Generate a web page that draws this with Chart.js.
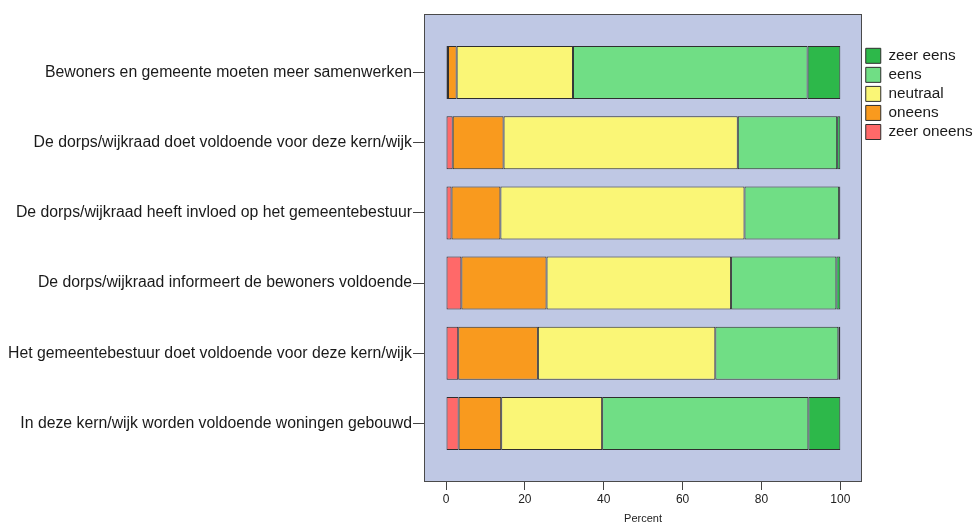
<!DOCTYPE html>
<html>
<head>
<meta charset="utf-8">
<script src="https://cdn.jsdelivr.net/npm/chart.js@4/dist/chart.umd.min.js"></script>
<style>
  html, body { margin: 0; padding: 0; background: #ffffff; }
  #wrap { width: 973px; height: 526px; }
</style>
</head>
<body>
<div id="wrap"><canvas id="chart" width="973" height="526"></canvas></div>
<script>
// categories (top to bottom)
const categories = [
  'Bewoners en gemeente moeten meer samenwerken',
  'De dorps/wijkraad doet voldoende voor deze kern/wijk',
  'De dorps/wijkraad heeft invloed op het gemeentebestuur',
  'De dorps/wijkraad informeert de bewoners voldoende',
  'Het gemeentebestuur doet voldoende voor deze kern/wijk',
  'In deze kern/wijk worden voldoende woningen gebouwd'
];

// percentages per answer
const zeerOneens = [0.5, 1.7, 1.4, 3.9, 3.1, 3.2];
const oneens     = [2.2, 12.9, 12.4, 21.6, 20.2, 10.8];
const neutraal   = [29.5, 59.4, 61.9, 46.8, 45.0, 25.6];
const eens       = [59.5, 25.2, 24.0, 26.7, 31.2, 52.3];
const zeerEens   = [8.3, 0.8, 0.3, 1.0, 0.5, 8.1];

const xTicks = [0, 20, 40, 60, 80, 100];
const xTitle = 'Percent';

const series = [
  { label: 'zeer oneens', values: zeerOneens, color: '#ff6969' },
  { label: 'oneens', values: oneens, color: '#f99a1e' },
  { label: 'neutraal', values: neutraal, color: '#faf676' },
  { label: 'eens', values: eens, color: '#70de85' },
  { label: 'zeer eens', values: zeerEens, color: '#2db84a' }
];

const FONT = "'Liberation Sans', Arial, sans-serif";

// plot frame + background (drawn around the chart area)
const framePlugin = {
  id: 'frame',
  beforeDraw(chart) {
    const { ctx, chartArea: a } = chart;
    ctx.save();
    ctx.fillStyle = '#bfc8e4';
    ctx.fillRect(a.left, a.top, a.right - a.left, a.bottom - a.top);
    ctx.strokeStyle = '#4a4a4a';
    ctx.lineWidth = 1;
    ctx.strokeRect(a.left + 0.5, a.top + 0.5, a.right - a.left - 1, a.bottom - a.top - 1);
    ctx.restore();
  }
};

const datasets = series.map(s => ({
  label: s.label,
  data: s.values.map((v, i) => ({ x: v, y: i })),
  backgroundColor: s.color,
  borderColor: '#2e2e2e',
  borderWidth: 1,
  borderSkipped: false,
  categoryPercentage: 1,
  barPercentage: 0.755
}));

new Chart(document.getElementById('chart').getContext('2d'), {
  type: 'bar',
  data: { datasets },
  plugins: [framePlugin],
  options: {
    indexAxis: 'y',
    responsive: false,
    animation: false,
    devicePixelRatio: 1,
    layout: { padding: { top: 14, left: 0, right: 0, bottom: 0 } },
    scales: {
      x: {
        type: 'linear',
        stacked: true,
        min: -5.58,
        max: 105.5,
        afterBuildTicks: scale => { scale.ticks = xTicks.map(v => ({ value: v })); },
        afterFit: scale => { scale.height = 44; },
        border: { display: false },
        grid: { drawOnChartArea: false, drawTicks: true, tickLength: 8, color: '#444' },
        ticks: { font: { family: FONT, size: 12 }, color: '#222', padding: 2, maxRotation: 0 },
        title: { display: true, text: xTitle, font: { family: FONT, size: 11 }, color: '#222', padding: { top: 4, bottom: 0 } }
      },
      y: {
        type: 'linear',
        stacked: true,
        reverse: true,
        offset: false,
        min: -0.833,
        max: 5.833,
        afterBuildTicks: scale => { scale.ticks = categories.map((c, i) => ({ value: i })); },
        afterFit: scale => { scale.width = 424; },
        border: { display: false },
        grid: { offset: false, drawOnChartArea: false, drawTicks: true, tickLength: 11, color: '#444' },
        ticks: {
          callback: v => categories[v],
          font: { family: FONT, size: 15.8 },
          color: '#1a1a1a',
          padding: 1
        }
      }
    },
    plugins: {
      tooltip: { enabled: false },
      legend: {
        display: true,
        position: 'right',
        align: 'start',
        reverse: true,
        maxWidth: 111,
        title: { display: true, text: '', padding: { top: 16, bottom: 0 } },
        labels: {
          boxWidth: 15,
          boxHeight: 15,
          padding: 3.75,
          color: '#1a1a1a',
          font: { family: FONT, size: 15.3 }
        }
      }
    }
  }
});
</script>
</body>
</html>
